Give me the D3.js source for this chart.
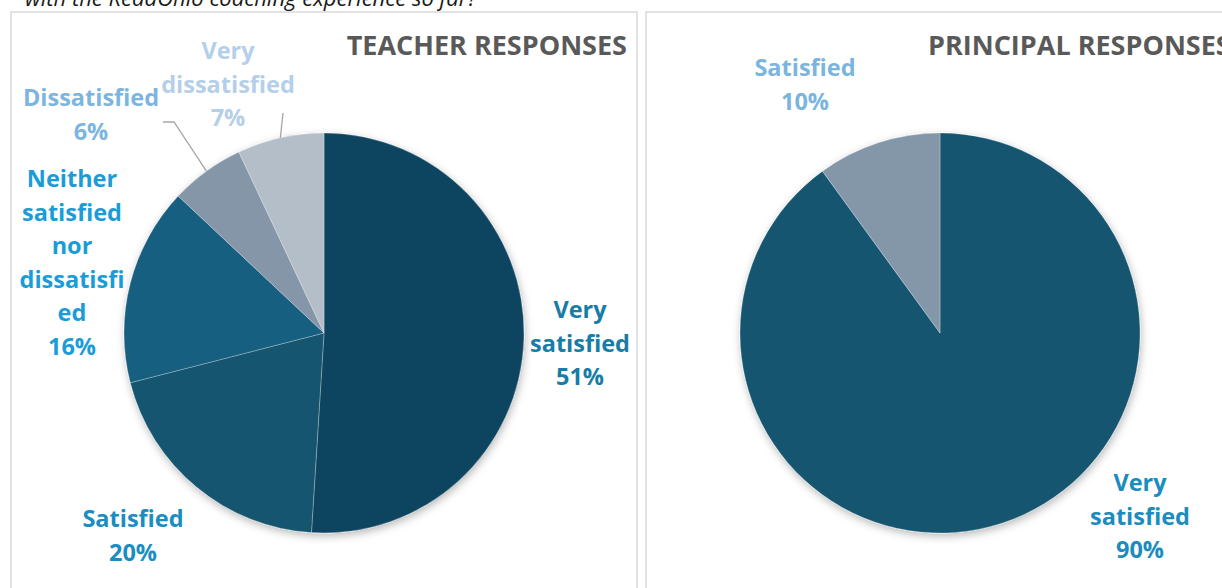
<!DOCTYPE html>
<html>
<head>
<meta charset="utf-8">
<script src="https://cdn.jsdelivr.net/npm/d3@7/dist/d3.min.js"></script>
<style>
  html, body { margin: 0; padding: 0; background: #ffffff; }
  svg { display: block; }
  text { font-family: "Open Sans", "Noto Sans", sans-serif; }
</style>
</head>
<body>
<svg id="chart" width="1222" height="588"></svg>
<script>
// ---------- DATA ----------
const questionText = "with the ReadOhio coaching experience so far?";
const teacherTitle = "TEACHER RESPONSES";
const principalTitle = "PRINCIPAL RESPONSES";

const teacherCategories = ["Very satisfied", "Satisfied", "Neither satisfied nor dissatisfied", "Dissatisfied", "Very dissatisfied"];
const teacherValues = [51, 20, 16, 6, 7];
const teacherLabelLines = [
  ["Very", "satisfied", "51%"],
  ["Satisfied", "20%"],
  ["Neither", "satisfied", "nor", "dissatisfi", "ed", "16%"],
  ["Dissatisfied", "6%"],
  ["Very", "dissatisfied", "7%"]
];

const principalCategories = ["Very satisfied", "Satisfied"];
const principalValues = [90, 10];
const principalLabelLines = [
  ["Very", "satisfied", "90%"],
  ["Satisfied", "10%"]
];

// ---------- STYLE / LAYOUT ----------
const teacherSliceColors = ["#0f4560", "#12546f", "#165e80", "#8496a8", "#b3bec8"];
const teacherLabelColors = ["#177ca6", "#1a8dc1", "#1a9cd8", "#7cb5df", "#b4cfe9"];
const principalSliceColors = ["#13546f", "#8497a9"];
const principalLabelColors = ["#1a8cc0", "#7ab5e0"];

// label anchor: centre x, first baseline y
const teacherLabelPos = [[580, 318], [133, 527], [72, 187], [91, 106], [228, 59]];
const principalLabelPos = [[1140, 491], [805, 76]];
const lineHeight = 33.5;

const svg = d3.select("#chart");

// shadow filter
const defs = svg.append("defs");
const f = defs.append("filter").attr("id", "shadow")
  .attr("x", "-20%").attr("y", "-20%").attr("width", "140%").attr("height", "140%");
f.append("feDropShadow").attr("dx", 1).attr("dy", 3).attr("stdDeviation", 4)
  .attr("flood-color", "#000").attr("flood-opacity", 0.28);

// question text (partially cut off at the top, as in the source)
svg.append("text")
  .attr("x", 25).attr("y", 6)
  .attr("font-style", "italic")
  .attr("font-size", 22)
  .attr("fill", "#1a1a1a")
  .text(questionText);

// panels
svg.append("rect").attr("x", 11).attr("y", 12).attr("width", 626).attr("height", 600)
  .attr("fill", "#fff").attr("stroke", "#d9d9d9").attr("stroke-width", 1.5);
svg.append("rect").attr("x", 646).attr("y", 12).attr("width", 600).attr("height", 600)
  .attr("fill", "#fff").attr("stroke", "#d9d9d9").attr("stroke-width", 1.5);

const pie = d3.pie().sort(null).value(d => d);
const R = 200;
const arc = d3.arc().innerRadius(0).outerRadius(R);

function drawPie(cx, cy, values, colors) {
  const g = svg.append("g").attr("transform", `translate(${cx},${cy})`);
  const arcs = pie(values);
  g.append("g").attr("filter", "url(#shadow)")
    .selectAll("path").data(arcs).join("path")
    .attr("d", arc)
    .attr("fill", (d, i) => colors[i])
    .attr("stroke", "rgba(255,255,255,0.35)")
    .attr("stroke-width", 0.8);
  return arcs;
}

function drawLabels(lines, pos, colors) {
  lines.forEach((ls, i) => {
    const t = svg.append("text")
      .attr("text-anchor", "middle")
      .attr("font-weight", 700)
      .attr("font-size", 23.5)
      .attr("fill", colors[i]);
    ls.forEach((l, j) => {
      t.append("tspan").attr("x", pos[i][0]).attr("y", pos[i][1] + j * lineHeight).text(l);
    });
  });
}

// teacher
const tArcs = drawPie(324, 333, teacherValues, teacherSliceColors);
// principal
const pArcs = drawPie(940, 333, principalValues, principalSliceColors);

// leader lines (teacher small slices)
const leader = svg.append("g").attr("fill", "none").attr("stroke", "#a6a6a6").attr("stroke-width", 1.3);
function edgePoint(a, cx, cy, k) {
  const ang = (a.startAngle + a.endAngle) / 2;
  return [cx + Math.sin(ang) * R * k, cy - Math.cos(ang) * R * k];
}
const pD = edgePoint(tArcs[3], 324, 333, 1.0);
leader.append("polyline").attr("points", `163,122 174,122 ${pD[0]},${pD[1]}`);
const pV = edgePoint(tArcs[4], 324, 333, 1.0);
leader.append("polyline").attr("points", `283,113 ${pV[0]},${pV[1]}`);

drawLabels(teacherLabelLines, teacherLabelPos, teacherLabelColors);
drawLabels(principalLabelLines, principalLabelPos, principalLabelColors);

// titles
svg.append("text").attr("x", 627).attr("y", 55).attr("text-anchor", "end")
  .attr("font-weight", 700).attr("font-size", 27).attr("fill", "#595959").text(teacherTitle);
svg.append("text").attr("x", 928).attr("y", 55).attr("text-anchor", "start")
  .attr("font-weight", 700).attr("font-size", 27).attr("fill", "#595959").text(principalTitle);
</script>
</body>
</html>
